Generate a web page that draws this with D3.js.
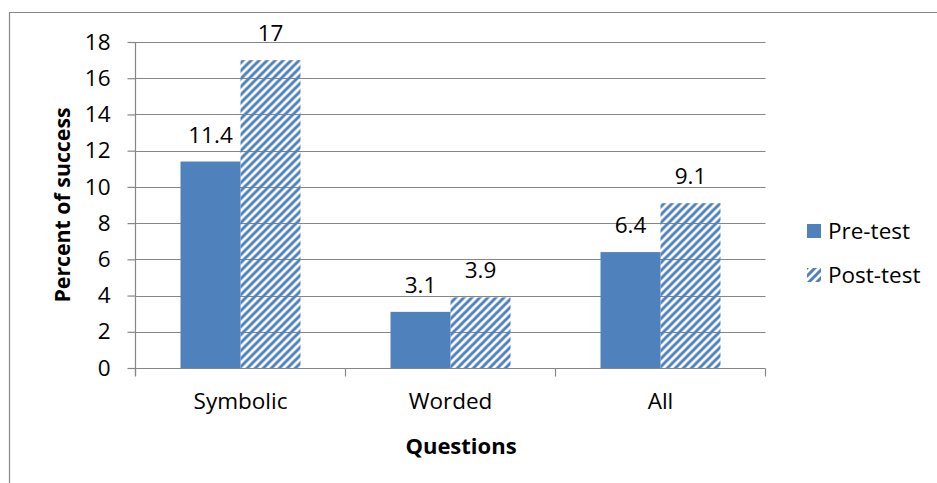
<!DOCTYPE html>
<html>
<head>
<meta charset="utf-8">
<script src="https://cdn.jsdelivr.net/npm/d3@7"></script>
<style>
  html, body { margin: 0; padding: 0; background: #fff; }
  svg { display: block; font-family: "Open Sans", sans-serif; }
</style>
</head>
<body>
<svg id="chart" width="937" height="483"></svg>
<script>
// Percent of success by question type, before and after
const categories = ["Symbolic", "Worded", "All"];
const seriesNames = ["Pre-test", "Post-test"];
const preTest = [11.4, 3.1, 6.4];
const postTest = [17, 3.9, 9.1];
const yTicks = [0, 2, 4, 6, 8, 10, 12, 14, 16, 18];

const blue = "#4F81BD";
const gridColor = "#868686";
const labelSize = 22.5;

const svg = d3.select("#chart");

// Outer frame (left and top edges)
svg.append("path")
  .attr("d", "M9.5,483 V12.5 H937")
  .attr("fill", "none")
  .attr("stroke", gridColor)
  .attr("stroke-width", 1.2);

// Diagonal hatch used for the post-test bars
const defs = svg.append("defs");
const pat = defs.append("pattern")
  .attr("id", "hatch")
  .attr("patternUnits", "userSpaceOnUse")
  .attr("width", 8).attr("height", 8);
pat.append("path")
  .attr("d", "M-2,2 L2,-2 M0,8 L8,0 M6,10 L10,6")
  .attr("stroke", blue)
  .attr("stroke-width", 3)
  .attr("stroke-linecap", "square");

const plot = { left: 135.5, right: 765.5, top: 42, bottom: 368 };

const x = d3.scaleBand()
  .domain(categories)
  .range([plot.left, plot.right])
  .paddingInner(0)
  .paddingOuter(0);

const xs = d3.scaleBand()
  .domain(seriesNames)
  .range([0, x.bandwidth()])
  .paddingOuter(0.75)
  .paddingInner(0);

const y = d3.scaleLinear().domain([0, 18]).range([plot.bottom, plot.top]);

// Horizontal gridlines
svg.append("g")
  .selectAll("line")
  .data(yTicks.filter(d => d > 0))
  .join("line")
  .attr("x1", plot.left).attr("x2", plot.right)
  .attr("y1", d => Math.round(y(d)) + 0.5)
  .attr("y2", d => Math.round(y(d)) + 0.5)
  .attr("stroke", gridColor)
  .attr("stroke-width", 1.2);

const rows = categories.map((c, i) => ({ cat: c, values: [preTest[i], postTest[i]] }));

// Bars
const groups = svg.append("g")
  .selectAll("g")
  .data(rows)
  .join("g")
  .attr("transform", d => `translate(${x(d.cat)},0)`);

groups.selectAll("rect")
  .data(d => d.values.map((v, j) => ({ name: seriesNames[j], v })))
  .join("rect")
  .attr("x", d => xs(d.name))
  .attr("width", xs.bandwidth())
  .attr("y", d => y(d.v))
  .attr("height", d => y(0) - y(d.v))
  .attr("fill", d => d.name === "Pre-test" ? blue : "url(#hatch)");

// Value labels
groups.selectAll("text")
  .data(d => d.values.map((v, j) => ({ name: seriesNames[j], v })))
  .join("text")
  .attr("x", d => xs(d.name) + xs.bandwidth() / 2)
  .attr("y", d => y(d.v) - 19)
  .attr("text-anchor", "middle")
  .attr("font-size", labelSize)
  .attr("fill", "#000")
  .text(d => d.v);

// Y axis
const yAxis = svg.append("g")
  .attr("transform", `translate(${plot.left},0)`)
  .call(d3.axisLeft(y).tickValues(yTicks).tickSize(8).tickPadding(17).tickFormat(d3.format("d")));
yAxis.selectAll("path, line").attr("stroke", gridColor).attr("stroke-width", 1.2);
yAxis.select(".domain").attr("d", `M0,${plot.top}V${plot.bottom + 8}`);
yAxis.selectAll("text").attr("font-size", labelSize).attr("fill", "#000")
  .attr("font-family", "'Open Sans', sans-serif");

// X axis with ticks between categories
const xAxis = svg.append("g")
  .attr("transform", `translate(0,${plot.bottom + 0.5})`);
xAxis.append("line")
  .attr("x1", plot.left).attr("x2", plot.right)
  .attr("stroke", gridColor).attr("stroke-width", 1.2);
const boundaries = categories.map(c => x(c)).concat([x(categories[categories.length - 1]) + x.bandwidth()]);
xAxis.selectAll("line.tick")
  .data(boundaries)
  .join("line")
  .attr("class", "tick")
  .attr("x1", d => d).attr("x2", d => d)
  .attr("y1", 0).attr("y2", 8)
  .attr("stroke", gridColor).attr("stroke-width", 1.2);
xAxis.selectAll("text")
  .data(categories)
  .join("text")
  .attr("x", d => x(d) + x.bandwidth() / 2)
  .attr("y", 40)
  .attr("text-anchor", "middle")
  .attr("font-size", labelSize)
  .attr("fill", "#000")
  .text(d => d);

// Axis titles
svg.append("text")
  .attr("x", 461)
  .attr("y", 454)
  .attr("text-anchor", "middle")
  .attr("font-size", 22)
  .attr("font-weight", "bold")
  .text("Questions");

svg.append("text")
  .attr("transform", "translate(70,205) rotate(-90)")
  .attr("text-anchor", "middle")
  .attr("font-size", 21.3)
  .attr("font-weight", "bold")
  .text("Percent of success");

// Legend
const legend = svg.append("g").attr("transform", "translate(807,224)");
const li = legend.selectAll("g")
  .data(seriesNames)
  .join("g")
  .attr("transform", (d, i) => `translate(0,${i * 44})`);
li.append("rect")
  .attr("width", 14).attr("height", 14)
  .attr("fill", d => d === "Pre-test" ? blue : "url(#hatch)");
li.append("text")
  .attr("x", 21).attr("y", 15)
  .attr("font-size", labelSize)
  .attr("fill", "#000")
  .text(d => d);
</script>
</body>
</html>
